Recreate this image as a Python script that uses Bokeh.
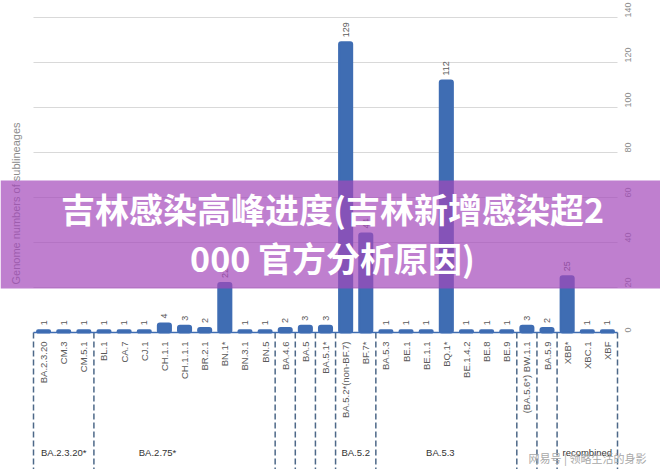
from math import pi
from itertools import accumulate
from bokeh.plotting import figure
from bokeh.models import (Range1d, LinearAxis, FixedTicker, ColumnDataSource,
                          Label, BoxAnnotation)
from bokeh.core.properties import value
from bokeh.embed import file_html
from bokeh.resources import INLINE

# ---------------- data ----------------
categories = ["BA.2.3.20", "CM.3", "CM.5.1", "BL.1", "CA.7", "CJ.1", "CH.1.1",
              "CH.1.1.1", "BR.2.1", "BN.1*", "BN.3.1", "BN.5", "BA.4.6", "BA.5",
              "BA.5.1*", "BA.5.2*(non-BF.7)", "BF.7*", "BA.5.3", "BE.1", "BE.1.1",
              "BQ.1*", "BE.1.4.2", "BE.8", "BE.9", "(BA.5.6*) BW.1.1", "BA.5.9",
              "XBB*", "XBC.1", "XBF"]
counts = [1, 1, 1, 1, 1, 1, 4, 3, 2, 22, 1, 1, 2, 3, 3, 129, 44, 1, 1, 1, 112,
          1, 1, 1, 3, 2, 25, 1, 1]
group_names = ["BA.2.3.20*", "BA.2.75*", "", "", "", "BA.5.2", "BA.5.3", "", "",
               "recombined"]
group_sizes = [3, 9, 1, 1, 1, 2, 7, 1, 1, 3]
y_ticks = [0, 20, 40, 60, 80, 100, 120, 140]
y_label = "Genome numbers of sublineages"
banner_text = "吉林感染高峰进度(吉林新增感染超2\n000 官方分析原因)"
watermark = "网易号 | 领略生活的身影"

# ---------------- layout / style ----------------
W, H = 660, 469
FRAME_L, FRAME_R = 33, 617      # pixel edges of category band
ZERO_Y, TOP_Y = 332, 17         # pixel rows of 0 and of max tick
BAR = "#3f6db3"
SEP = "#4d6888"
LATIN = "Liberation Sans"
group_label_dx = {"BA.2.75*": -27, "BA.5.3": -6}

N = len(categories)
ppx = (FRAME_R - FRAME_L) / N
ppy = (ZERO_Y - TOP_Y) / max(y_ticks)


def dx(px):
    return (px - FRAME_L) / ppx


def dy(py):
    return (ZERO_Y - py) / ppy


xs = [i + 0.5 for i in range(N)]

p = figure(width=W, height=H, x_range=Range1d(dx(0), dx(W)),
           y_range=Range1d(dy(H), dy(0)), output_backend="svg",
           toolbar_location=None, min_border=0, x_axis_type=None,
           y_axis_type=None, background_fill_color="white",
           border_fill_color="white")
p.outline_line_color = None

# horizontal gridlines across the category band
gv = [t for t in y_ticks if t > 0]
p.segment(x0=[0] * len(gv), x1=[N] * len(gv), y0=gv, y1=gv,
          line_color="#d9d9d9", line_width=1)

# dashed group separators
bounds = [0] + list(accumulate(group_sizes))
yb = dy(H)
p.segment(x0=bounds, x1=bounds, y0=[0] * len(bounds), y1=[yb] * len(bounds),
          line_color=SEP, line_width=1.5, line_dash="6 3")

# bars
src = ColumnDataSource(dict(x=xs, top=counts, lab=[str(c) for c in counts]))
p.vbar(x="x", top="top", bottom=0, width=0.65, source=src, fill_color=BAR,
       line_color=BAR, line_width=2, border_radius=2)
p.text(x="x", y="top", text="lab", source=src, angle=pi / 2,
       text_align="left", text_baseline="middle", y_offset=-5,
       text_font=value(LATIN), text_font_size="9px", text_color="#595959")

# category axis (at value 0)
xaxis = LinearAxis(ticker=FixedTicker(ticks=xs), fixed_location=0,
                   bounds=(0, N),
                   major_label_overrides={x: c for x, c in zip(xs, categories)},
                   major_label_orientation=pi / 2, major_label_standoff=3,
                   major_tick_line_color=None, minor_tick_line_color=None,
                   axis_line_color=BAR, axis_line_width=1.5,
                   major_label_text_font=LATIN,
                   major_label_text_font_size="9.5px",
                   major_label_text_color="#595959")
p.add_layout(xaxis, "below")

# value axis on the right
yaxis = LinearAxis(ticker=FixedTicker(ticks=y_ticks), fixed_location=N,
                   axis_line_color=None, major_tick_line_color=None,
                   minor_tick_line_color=None,
                   major_label_orientation=pi / 2, major_label_standoff=4,
                   major_label_text_font=LATIN,
                   major_label_text_font_size="9px",
                   major_label_text_color="#8c8c8c")
p.add_layout(yaxis, "right")

# group labels
gx, gy, gt, go = [], [], [], []
for i, name in enumerate(group_names):
    if name:
        gx.append((bounds[i] + bounds[i + 1]) / 2)
        gy.append(dy(452))
        gt.append(name)
        go.append(group_label_dx.get(name, 0))
p.text(x=gx, y=gy, text=gt, x_offset=go, text_align="center",
       text_baseline="middle", text_font=value(LATIN), text_font_size="9.5px",
       text_color="#333333")

# y axis title
p.add_layout(Label(x=dx(15), y=dy(203), text=y_label, angle=pi / 2,
                   text_align="center", text_baseline="middle",
                   text_font=LATIN, text_font_size="11px",
                   text_color="#8c8c8c"))

# watermark
p.add_layout(Label(x=dx(528), y=dy(457), text=watermark, text_align="left",
                   text_baseline="middle", text_font="Noto Sans CJK SC",
                   text_font_size="11px", text_color="#a8a8a8"))

# purple banner with title
p.add_layout(BoxAnnotation(top=dy(180), bottom=dy(288),
                           fill_color=(164, 72, 186), fill_alpha=0.7,
                           line_color=None))
p.add_layout(Label(x=dx(W / 2 + 2), y=dy(232), text=banner_text,
                   text_align="center", text_baseline="middle",
                   text_font="Noto Sans CJK SC", text_font_style="bold",
                   text_font_size="34px", text_color="white",
                   text_line_height=1.0))

open("out.html", "w").write(file_html(p, INLINE))
